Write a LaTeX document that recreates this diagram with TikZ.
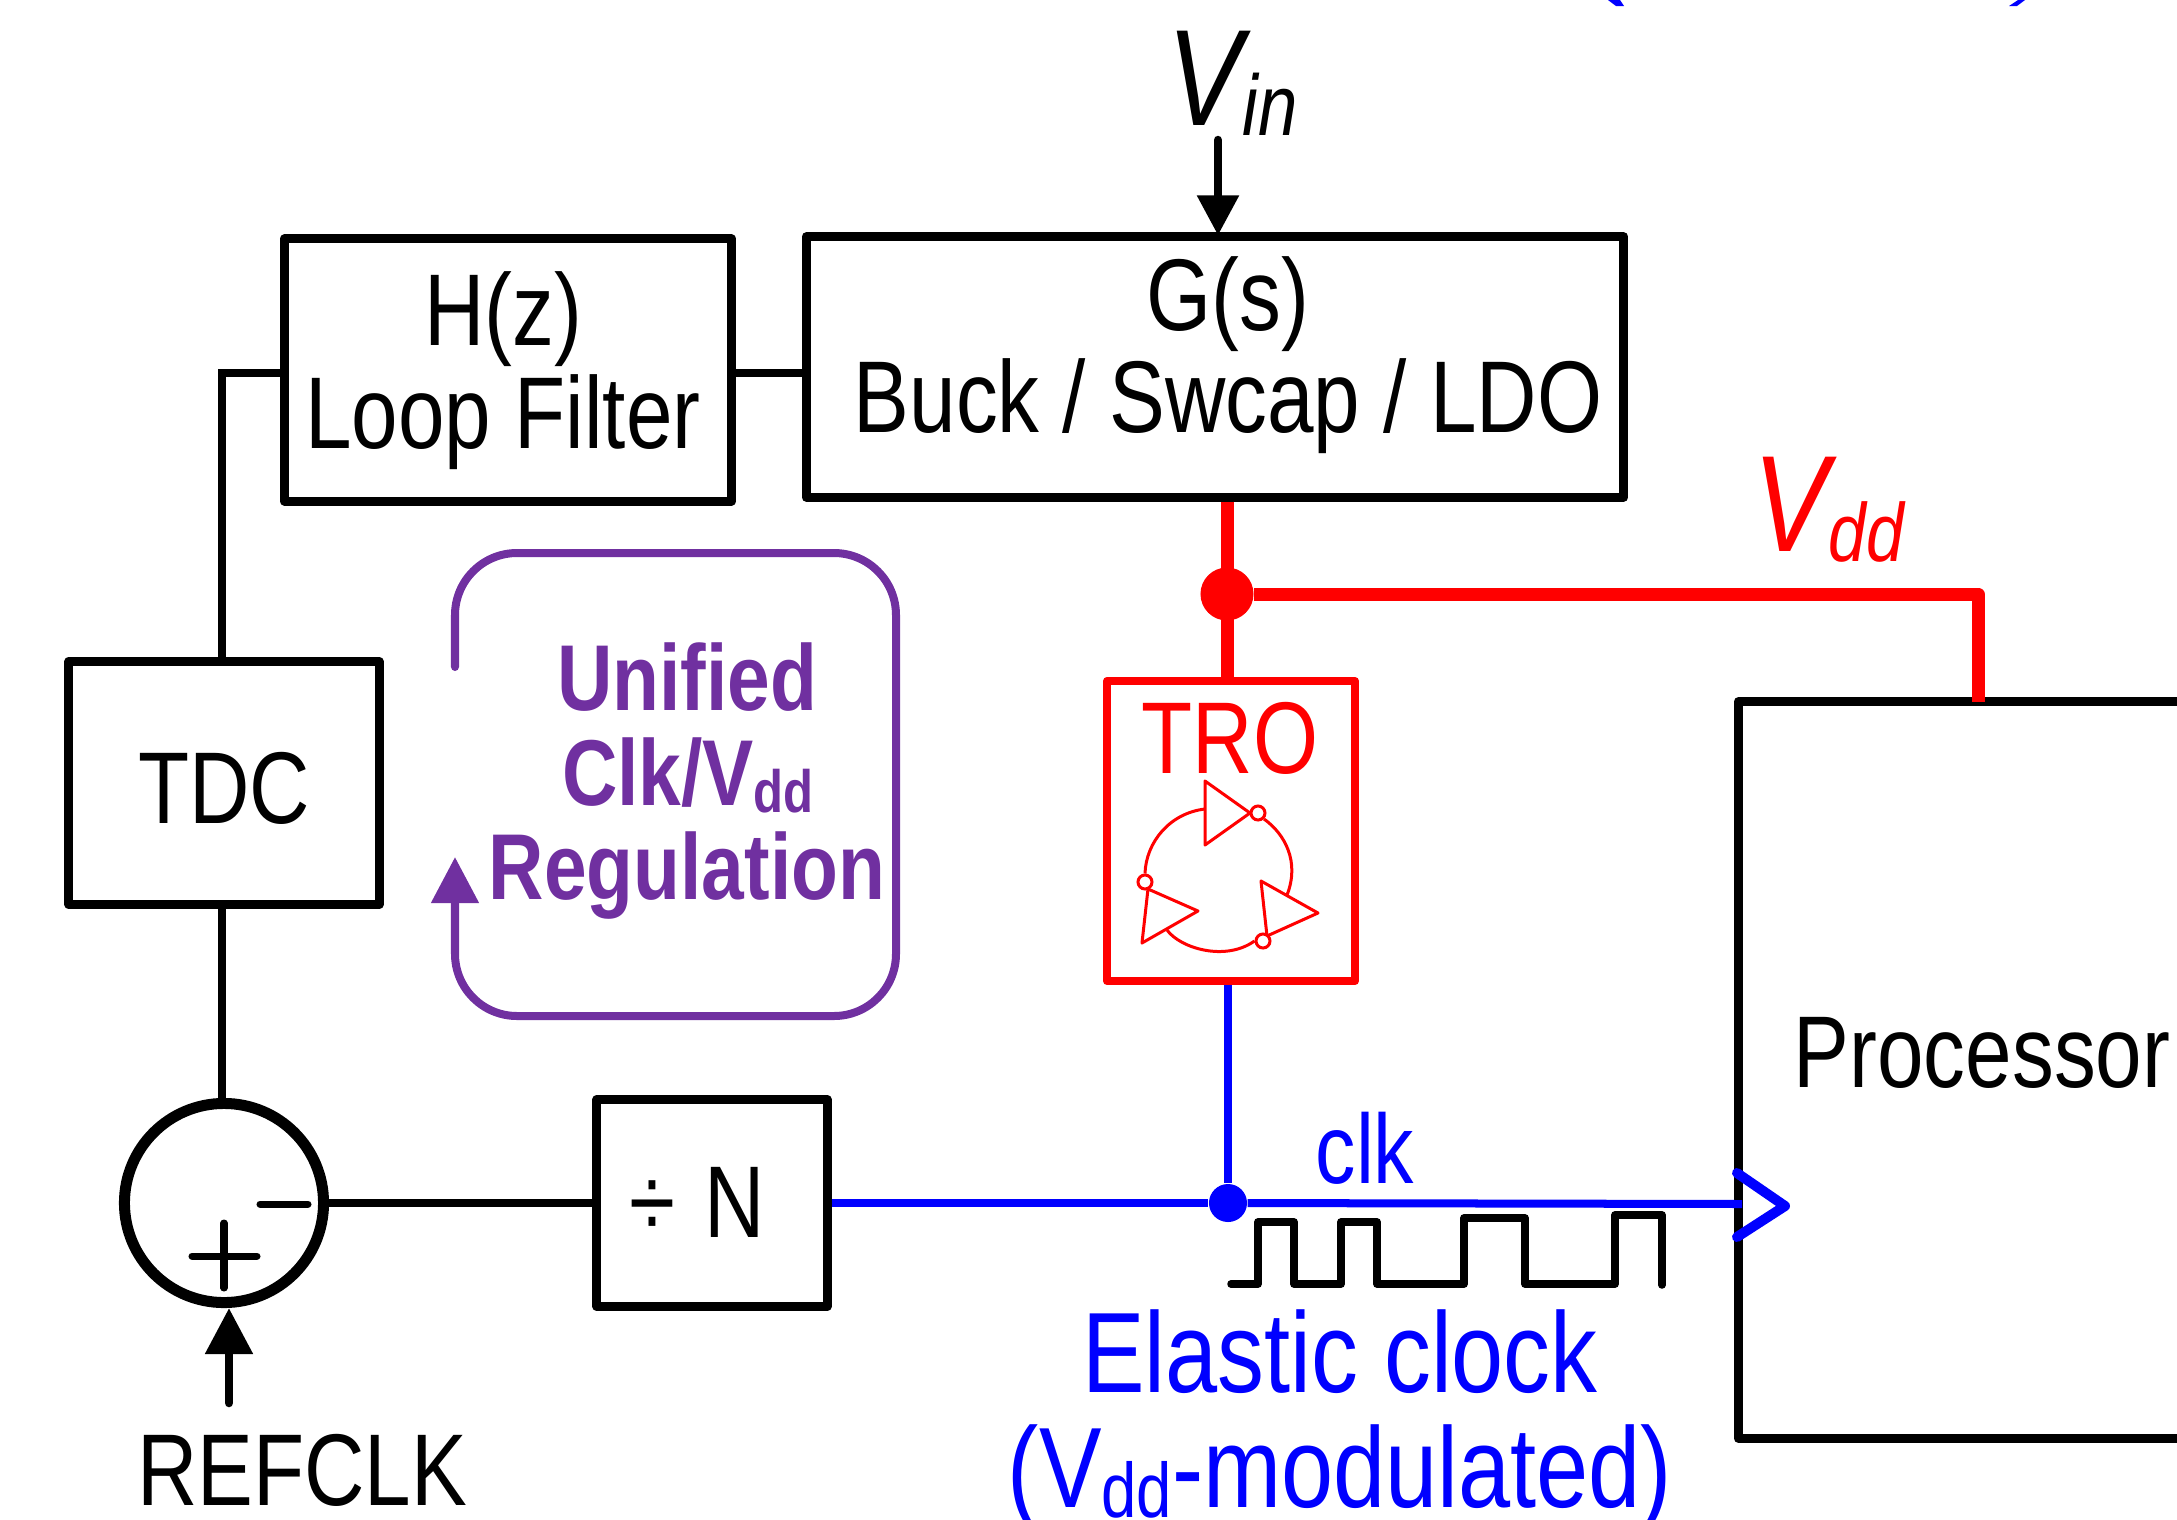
\documentclass[tikz,border=0pt]{standalone}
\usepackage{fontspec}
\setmainfont[FakeStretch=0.82]{Liberation Sans}
\usepackage{xcolor}
\usetikzlibrary{arrows.meta,calc}
\definecolor{loopviolet}{HTML}{7030A0}
\newcommand{\subtxt}[3][0.1cm]{\raisebox{-#1}{\fontsize{#2}{#2}\selectfont #3}}

\begin{document}
\begin{tikzpicture}[
    x=0.01cm, y=-0.01cm,
    blockbox/.style={rectangle, draw, line width=0.09cm, line join=round, inner sep=0pt},
    txt/.style={anchor=base, inner sep=0pt, align=center, font=\fontsize{29}{34}\selectfont},
    notetxt/.style={txt, text=loopviolet, font=\fontsize{26.6}{30}\bfseries},
    wire/.style={line width=0.085cm},
    redwire/.style={red, line width=0.13cm},
    bluewire/.style={blue, line width=0.08cm},
    inv/.style={red, line width=0.03cm, line join=round},
    bubble/.style={circle, draw=red, fill=white, line width=0.03cm, minimum size=0.14cm, inner sep=0pt},
    feed/.style={-{Triangle[length=#1, width=#1]}, line width=0.085cm, line cap=round}
]
    \path[use as bounding box, clip] (0,0) rectangle (2177,1520);

    % Top of the cut-off title
    \fill[blue] (1608,0) -- (1616,6) -- (1624,6) -- (1620,0) -- cycle;
    \fill[blue] (2018,0) -- (2009,6) -- (2017,6) -- (2025,0) -- cycle;

    % Blocks
    \node[blockbox, minimum width=4.47cm, minimum height=2.62cm] (hz) at (508,370) {};
    \node[blockbox, minimum width=8.17cm, minimum height=2.60cm] (gs) at (1215,367) {};
    \node[blockbox, minimum width=3.10cm, minimum height=2.43cm] (tdc) at (224,783) {};
    \node[blockbox, minimum width=2.30cm, minimum height=2.07cm] (div) at (712,1203) {};
    \node[blockbox, minimum width=5.61cm, minimum height=7.36cm] (proc) at (2019,1070) {};
    \node[blockbox, draw=red, line width=0.08cm, minimum width=2.48cm, minimum height=3.00cm] (tro) at (1231,831) {};
    \node[circle, draw, line width=0.11cm, minimum size=1.99cm, inner sep=0pt] (sum) at (224,1203) {};

    % Block labels
    \node[txt] (hztxt) at (503,345) {H(z)};
    \node[txt] (lftxt) at (503,448) {Loop Filter};
    \node[txt] (gstxt) at (1228,330) {G(s)};
    \node[txt] (bucktxt) at (1228,432) {Buck / Swcap / LDO};
    \node[txt] (tdctxt) at (224,823) {TDC};
    \node[txt] (divtxt) at (697,1237) {÷\hspace{0.06cm} N};
    \node[txt] (proctxt) at (1982,1087) {Processor};
    \node[txt, text=red] (trotxt) at (1230,773) {TRO};
    \node[txt] (reftxt) at (302,1505) {REFCLK};

    % Signal labels
    \node[txt, anchor=base west] (vin) at (1167,125) {\fontsize{39}{39}\selectfont\textit{V\subtxt{24.5}{in}}};
    \node[txt, anchor=base west, text=red] (vdd) at (1753,551) {\fontsize{39}{39}\selectfont\textit{V\subtxt{23.5}{dd}}};
    \node[txt, text=blue, font=\fontsize{28}{30}\selectfont] (clktxt) at (1365,1183) {clk};
    \node[txt, text=blue, font=\fontsize{32.5}{36}\selectfont] (elastic) at (1340,1392) {Elastic clock};
    \node[txt, text=blue, font=\fontsize{32.5}{36}\selectfont] (modul) at (1340,1507) {(V\subtxt{22}{dd}-modulated)};

    % Loop note
    \node[notetxt] (note1) at (687,710) {Unified};
    \node[notetxt] (note2) at (688,805) {Clk/V\subtxt[0.07cm]{17}{dd}};
    \node[notetxt] (note3) at (687,899) {Regulation};
    \coordinate (loopa) at (455,667);
    \coordinate (loopb) at (896,553);
    \coordinate (loopc) at (455,1016);
    \coordinate (loopd) at (455,857);
    \draw[-{Triangle[length=0.46cm, width=0.46cm]}, loopviolet, line width=0.08cm, line cap=round, rounded corners=0.62cm]
        (loopa) -- (loopa |- loopb) -- (loopb) -- (loopb |- loopc) -- (loopc) -- (loopd);

    % Control loop wires
    \coordinate (hzin) at (285,373);
    \coordinate (hzout) at (732,373);
    \coordinate (vinfrom) at (1218,140);
    \coordinate (refin) at (229,1403);
    \draw[wire] ([xshift=-0.02cm]tdc.north) |- (hzin);
    \draw[wire] (hzout) -- (hzout -| gs.west);
    \draw[wire] ([xshift=-0.02cm]tdc.south) -- ([xshift=-0.02cm]sum.north);
    \draw[wire] (sum.east) -- (div.west);
    \draw[feed=0.4cm, shorten >=-0.03cm] (vinfrom) -- (vinfrom |- gs.north);
    \draw[feed=0.46cm] (refin) -- (refin |- sum.south);

    % Sum signs
    \draw[line width=0.07cm, line cap=round] (260,1204) -- (308,1204);
    \draw[line width=0.07cm, line cap=round] (192,1256) -- (257,1256);
    \draw[line width=0.07cm, line cap=round] (224,1223) -- (224,1288);

    % Supply
    \node[circle, fill=red, minimum size=0.53cm, inner sep=0pt] (vddn) at (1227,594) {};
    \coordinate (proctap) at (1978,702);
    \draw[redwire] (vddn |- gs.south) -- (vddn |- tro.north);
    \draw[redwire, line join=round] (vddn) -| (proctap);

    % Ring of inverters
    \draw[inv] (1205,781) -- (1205,845) -- (1250,813) -- cycle;
    \draw[inv] (1261,881) -- (1318,913) -- (1267,936) -- cycle;
    \draw[inv] (1198,911) -- (1142,943) -- (1148,889) -- cycle;
    \node[bubble] (bub1) at (1258,813) {};
    \node[bubble] (bub2) at (1263,941) {};
    \node[bubble] (bub3) at (1145,882) {};
    \coordinate (inv1in) at (1205,809);
    \coordinate (inv2in) at (1287,895);
    \coordinate (inv3in) at (1167,930);
    \draw[inv] (inv1in) .. controls (1170,813) and (1146,842) .. (bub3.north);
    \draw[inv] (bub1.south east) .. controls (1285,834) and (1300,862) .. (inv2in);
    \draw[inv] (inv3in) .. controls (1180,948) and (1225,962) .. (bub2.west);

    % Clock
    \node[circle, fill=blue, minimum size=0.38cm, inner sep=0pt] (clkn) at (1228,1203) {};
    \coordinate (clktip) at (1742,1204);
    \coordinate (chevup) at (1737,1173);
    \coordinate (chevtip) at (1785,1206);
    \coordinate (chevdn) at (1737,1237);
    \draw[bluewire] (clkn |- tro.south) -- (clkn);
    \draw[bluewire] (div.east) -- (clkn);
    \draw[bluewire] (clkn) -- (clktip);
    \draw[blue, line width=0.1cm, line cap=round, line join=round] (chevup) -- (chevtip) -- (chevdn);

    % Clock waveform
    \draw[line width=0.075cm, line cap=round, line join=round] (1231,1284) -- (1258,1284) -- (1258,1222) -- (1294,1222) -- (1294,1284)
        -- (1341,1284) -- (1341,1222) -- (1377,1222) -- (1377,1284) -- (1464,1284) -- (1464,1218) -- (1525,1218)
        -- (1525,1284) -- (1615,1284) -- (1615,1215) -- (1662,1215) -- (1662,1285);
\end{tikzpicture}
\end{document}
